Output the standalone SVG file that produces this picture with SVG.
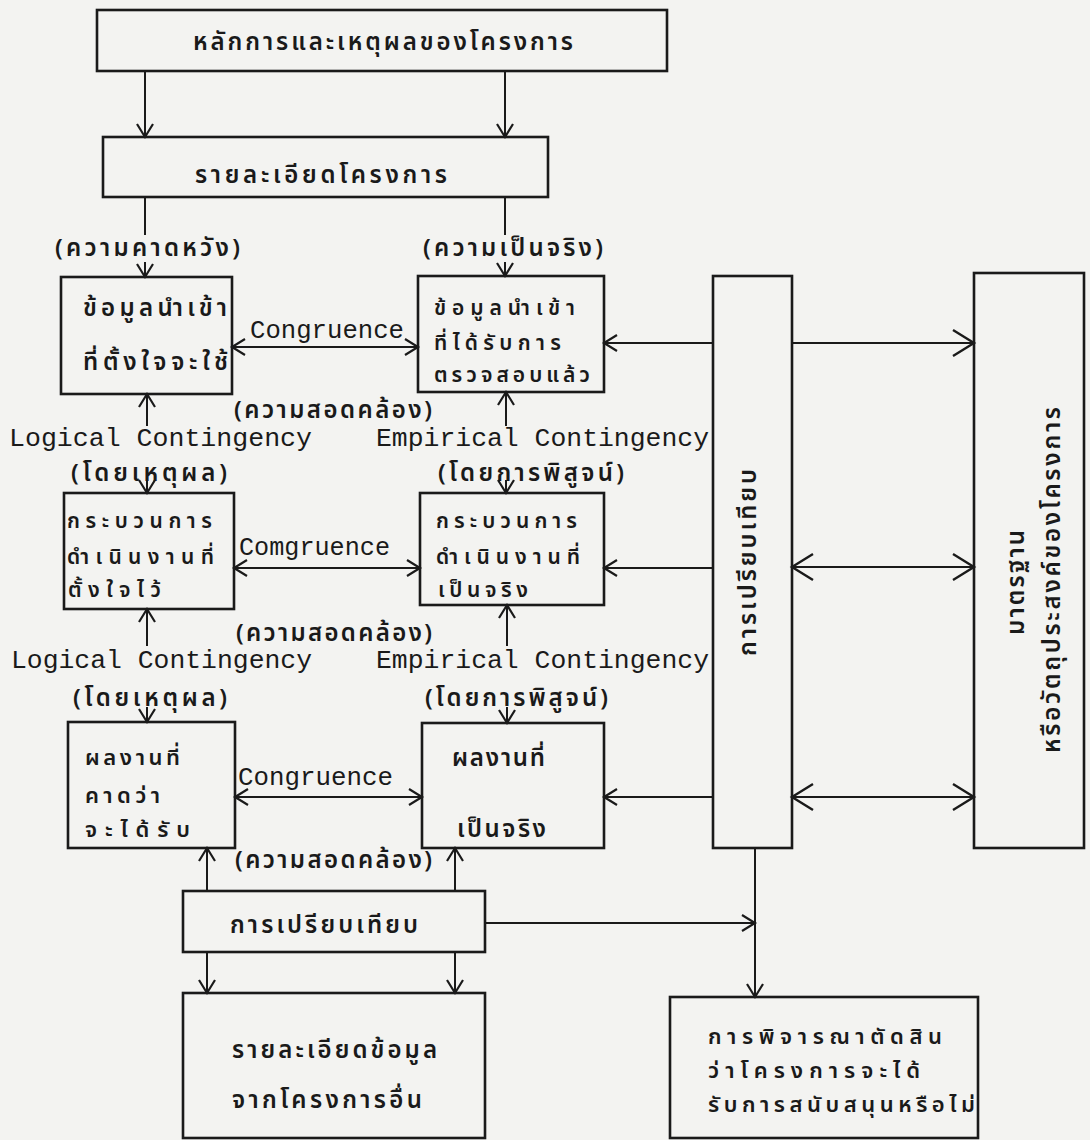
<svg xmlns="http://www.w3.org/2000/svg" width="1090" height="1140" viewBox="0 0 1090 1140">
<defs>
<style>
.bx{fill:none;stroke:#1a1a1a;stroke-width:2.6}
.ln{fill:none;stroke:#1a1a1a;stroke-width:2}
.th{font-family:"Noto Sans Thai","Noto Sans Thai Looped","Noto Sans","DejaVu Sans",sans-serif;font-size:24px;font-weight:600;fill:#1a1a1a}
.sm{font-size:21px}
.md{font-size:22px}
.en{font-family:"Liberation Mono","Courier New","DejaVu Sans Mono",monospace;font-size:26px;fill:#1a1a1a}
</style>
<marker id="ah" markerUnits="userSpaceOnUse" markerWidth="18" markerHeight="20" refX="15" refY="10" orient="auto-start-reverse">
<path d="M2,2 L15,10 L2,18" fill="none" stroke="#1a1a1a" stroke-width="2.2"/>
</marker>
<marker id="ahL" markerUnits="userSpaceOnUse" markerWidth="26" markerHeight="30" refX="23" refY="15" orient="auto-start-reverse">
<path d="M2,2 L23,15 L2,28" fill="none" stroke="#1a1a1a" stroke-width="2.4"/>
</marker>
</defs>
<rect width="1090" height="1140" fill="#f3f3f1"/>

<g id="connectors">
<line class="ln" x1="145" y1="71" x2="145" y2="137" marker-end="url(#ah)"/>
<line class="ln" x1="505" y1="71" x2="505" y2="137" marker-end="url(#ah)"/>
<line class="ln" x1="145" y1="197" x2="145" y2="235"/>
<line class="ln" x1="505" y1="197" x2="505" y2="235"/>
<line class="ln" x1="145" y1="262" x2="145" y2="277" marker-end="url(#ah)"/>
<line class="ln" x1="505" y1="262" x2="505" y2="276" marker-end="url(#ah)"/>
<line class="ln" x1="232" y1="347" x2="418" y2="347" marker-start="url(#ah)" marker-end="url(#ah)"/>
<line class="ln" x1="147" y1="426" x2="147" y2="394" marker-end="url(#ah)"/>
<line class="ln" x1="506" y1="426" x2="506" y2="392" marker-end="url(#ah)"/>
<line class="ln" x1="147" y1="480" x2="147" y2="493" marker-end="url(#ah)"/>
<line class="ln" x1="506" y1="480" x2="506" y2="493" marker-end="url(#ah)"/>
<line class="ln" x1="234" y1="568" x2="420" y2="568" marker-start="url(#ah)" marker-end="url(#ah)"/>
<line class="ln" x1="147" y1="646" x2="147" y2="609" marker-end="url(#ah)"/>
<line class="ln" x1="507" y1="646" x2="507" y2="605" marker-end="url(#ah)"/>
<line class="ln" x1="147" y1="707" x2="147" y2="722" marker-end="url(#ah)"/>
<line class="ln" x1="507" y1="707" x2="507" y2="723" marker-end="url(#ah)"/>
<line class="ln" x1="235" y1="797" x2="422" y2="797" marker-start="url(#ah)" marker-end="url(#ah)"/>
<line class="ln" x1="713" y1="343" x2="604" y2="343" marker-end="url(#ah)"/>
<line class="ln" x1="713" y1="568" x2="604" y2="568" marker-end="url(#ah)"/>
<line class="ln" x1="713" y1="797" x2="604" y2="797" marker-end="url(#ah)"/>
<line class="ln" x1="792" y1="343" x2="974" y2="343" marker-end="url(#ahL)"/>
<line class="ln" x1="792" y1="567" x2="974" y2="567" marker-start="url(#ahL)" marker-end="url(#ahL)"/>
<line class="ln" x1="792" y1="797" x2="974" y2="797" marker-start="url(#ahL)" marker-end="url(#ahL)"/>
<line class="ln" x1="207" y1="891" x2="207" y2="848" marker-end="url(#ah)"/>
<line class="ln" x1="455" y1="891" x2="455" y2="848" marker-end="url(#ah)"/>
<line class="ln" x1="207" y1="952" x2="207" y2="993" marker-end="url(#ah)"/>
<line class="ln" x1="455" y1="952" x2="455" y2="993" marker-end="url(#ah)"/>
<line class="ln" x1="485" y1="923" x2="755" y2="923" marker-end="url(#ah)"/>
<line class="ln" x1="755" y1="848" x2="755" y2="997" marker-end="url(#ah)"/>
</g>

<g id="labels">
<text class="th" x="55" y="256" textLength="185" lengthAdjust="spacing">(ความคาดหวัง)</text>
<text class="th" x="423" y="256" textLength="180" lengthAdjust="spacing">(ความเป็นจริง)</text>
<text class="en" x="250" y="338" textLength="154" lengthAdjust="spacingAndGlyphs">Congruence</text>
<text class="th" x="234" y="418" textLength="198" lengthAdjust="spacing">(ความสอดคล้อง)</text>
<text class="en" x="9" y="446" textLength="303" lengthAdjust="spacingAndGlyphs">Logical Contingency</text>
<text class="en" x="376" y="446" textLength="333" lengthAdjust="spacingAndGlyphs">Empirical Contingency</text>
<text class="th" x="71" y="481" textLength="156" lengthAdjust="spacing">(โดยเหตุผล)</text>
<text class="th" x="438" y="481" textLength="186" lengthAdjust="spacing">(โดยการพิสูจน์)</text>
<text class="en" x="239" y="555" textLength="151" lengthAdjust="spacingAndGlyphs">Comgruence</text>
<text class="th" x="236" y="641" textLength="196" lengthAdjust="spacing">(ความสอดคล้อง)</text>
<text class="en" x="11" y="668" textLength="301" lengthAdjust="spacingAndGlyphs">Logical Contingency</text>
<text class="en" x="376" y="668" textLength="333" lengthAdjust="spacingAndGlyphs">Empirical Contingency</text>
<text class="th" x="73" y="706" textLength="154" lengthAdjust="spacing">(โดยเหตุผล)</text>
<text class="th" x="425" y="706" textLength="183" lengthAdjust="spacing">(โดยการพิสูจน์)</text>
<text class="en" x="238" y="785" textLength="155" lengthAdjust="spacingAndGlyphs">Congruence</text>
<text class="th" x="235" y="868" textLength="197" lengthAdjust="spacing">(ความสอดคล้อง)</text>
</g>

<g id="n-principle">
<rect class="bx" x="97" y="10" width="570" height="61" stroke-width="3"/>
<text class="th" x="193" y="50" textLength="380" lengthAdjust="spacing">หลักการและเหตุผลของโครงการ</text>
</g>
<g id="n-detail">
<rect class="bx" x="103" y="137" width="445" height="60" stroke-width="3"/>
<text class="th" x="195" y="183" textLength="252" lengthAdjust="spacing">รายละเอียดโครงการ</text>
</g>
<g id="n-intended-input">
<rect class="bx" x="61" y="277" width="171" height="117"/>
<text class="th" x="83" y="316" textLength="144" lengthAdjust="spacing">ข้อมูลนำเข้า</text>
<text class="th" x="83" y="370" textLength="145" lengthAdjust="spacing">ที่ตั้งใจจะใช้</text>
</g>
<g id="n-observed-input">
<rect class="bx" x="418" y="276" width="186" height="116"/>
<text class="th sm" x="434" y="315" textLength="141" lengthAdjust="spacing">ข้อมูลนำเข้า</text>
<text class="th sm" x="434" y="350" textLength="127" lengthAdjust="spacing">ที่ได้รับการ</text>
<text class="th sm" x="434" y="382" textLength="156" lengthAdjust="spacing">ตรวจสอบแล้ว</text>
</g>
<g id="n-intended-process">
<rect class="bx" x="64" y="493" width="170" height="116"/>
<text class="th sm" x="67" y="528" textLength="145" lengthAdjust="spacing">กระบวนการ</text>
<text class="th sm" x="67" y="564" textLength="147" lengthAdjust="spacing">ดำเนินงานที่</text>
<text class="th sm" x="68" y="597" textLength="93" lengthAdjust="spacing">ตั้งใจไว้</text>
</g>
<g id="n-observed-process">
<rect class="bx" x="420" y="493" width="184" height="112"/>
<text class="th sm" x="436" y="528" textLength="141" lengthAdjust="spacing">กระบวนการ</text>
<text class="th sm" x="436" y="564" textLength="144" lengthAdjust="spacing">ดำเนินงานที่</text>
<text class="th sm" x="438" y="597" textLength="90" lengthAdjust="spacing">เป็นจริง</text>
</g>
<g id="n-intended-outcome">
<rect class="bx" x="68" y="722" width="167" height="126"/>
<text class="th md" x="85" y="765" textLength="95" lengthAdjust="spacing">ผลงานที่</text>
<text class="th md" x="85" y="803" textLength="75" lengthAdjust="spacing">คาดว่า</text>
<text class="th md" x="85" y="837" textLength="105" lengthAdjust="spacing">จะได้รับ</text>
</g>
<g id="n-observed-outcome">
<rect class="bx" x="422" y="723" width="182" height="125"/>
<text class="th" x="452" y="766" textLength="93" lengthAdjust="spacing">ผลงานที่</text>
<text class="th" x="457" y="837" textLength="89" lengthAdjust="spacing">เป็นจริง</text>
</g>
<g id="n-compare-vertical">
<rect class="bx" x="713" y="276" width="79" height="572"/>
<text class="th" transform="translate(756,563) rotate(-90)" x="-93" y="0" textLength="187" lengthAdjust="spacing">การเปรียบเทียบ</text>
</g>
<g id="n-standards">
<rect class="bx" x="974" y="273" width="110" height="575"/>
<text class="th" transform="translate(1024,583) rotate(-90)" x="-52" y="0" textLength="105" lengthAdjust="spacing">มาตรฐาน</text>
<text class="th" transform="translate(1060,580) rotate(-90)" x="-173" y="0" textLength="346" lengthAdjust="spacing">หรือวัตถุประสงค์ของโครงการ</text>
</g>
<g id="n-compare">
<rect class="bx" x="183" y="891" width="302" height="61"/>
<text class="th" x="230" y="933" textLength="188" lengthAdjust="spacing">การเปรียบเทียบ</text>
</g>
<g id="n-other-projects">
<rect class="bx" x="183" y="993" width="302" height="145"/>
<text class="th" x="232" y="1058" textLength="205" lengthAdjust="spacing">รายละเอียดข้อมูล</text>
<text class="th" x="232" y="1108" textLength="190" lengthAdjust="spacing">จากโครงการอื่น</text>
</g>
<g id="n-decision">
<rect class="bx" x="670" y="997" width="308" height="141"/>
<text class="th md" x="708" y="1044" textLength="234" lengthAdjust="spacing">การพิจารณาตัดสิน</text>
<text class="th md" x="708" y="1078" textLength="212" lengthAdjust="spacing">ว่าโครงการจะได้</text>
<text class="th md" x="708" y="1112" textLength="267" lengthAdjust="spacing">รับการสนับสนุนหรือไม่</text>
</g>
</svg>
